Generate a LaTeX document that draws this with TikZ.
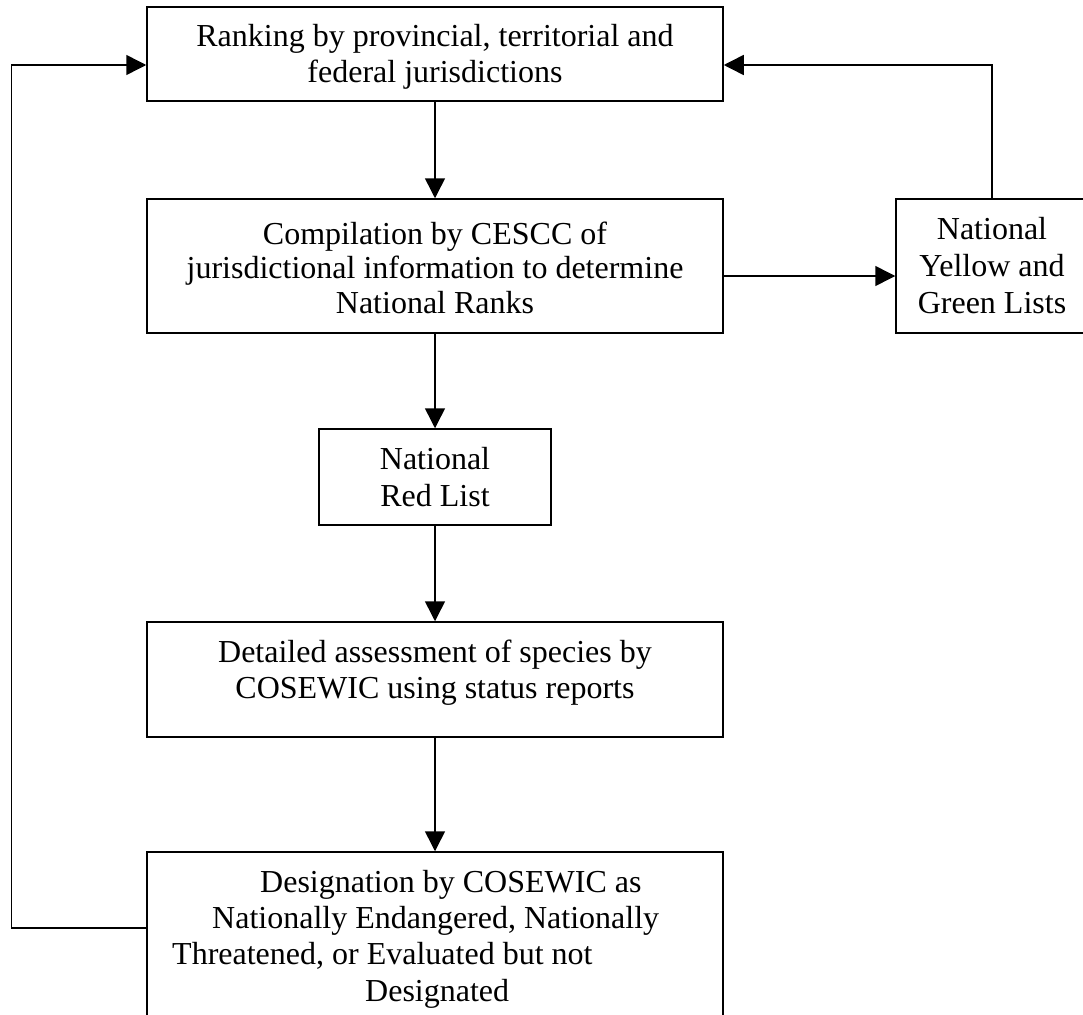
\documentclass[tikz,border=0pt]{standalone}
\usepackage{fontspec}
\setmainfont{Liberation Serif}
\usetikzlibrary{arrows.meta}
\newcommand\tblock[3][c]{\fontsize{32}{#2}\selectfont\begin{tabular}[t]{@{}#1@{}}#3\end{tabular}}
\tikzset{
  box/.style={draw, line width=1.5pt, inner sep=0pt},
  txt/.style={inner sep=0pt, anchor=base},
  arr/.style={line width=1.5pt, -{Triangle[length=20pt,width=20pt]}},
}
\begin{document}
\begin{tikzpicture}[x=1pt,y=-1pt]
\useasboundingbox (0,0) rectangle (1083,1014);
\clip (0,0) rectangle (1083,1014);
% boxes
\node[box, minimum width=576pt, minimum height=94pt]  (b1) at (435,54) {};
\node[box, minimum width=576pt, minimum height=134pt] (b2) at (435,266) {};
\node[box, minimum width=192pt, minimum height=134pt] (b3) at (992,266) {};
\node[box, minimum width=232pt, minimum height=96pt]  (b4) at (435,477) {};
\node[box, minimum width=576pt, minimum height=115pt] (b5) at (435,679.5) {};
\node[box, minimum width=576pt, minimum height=178pt] (b6) at (435,941) {};
% texts
\node[txt] (t1) at (435,47) {\tblock{36}{Ranking by provincial, territorial and\\ federal jurisdictions}};
\node[txt] (t2) at (435,244) {\tblock{34.5}{Compilation by CESCC of\\ jurisdictional information to determine\\ National Ranks}};
\node[txt] (t3) at (992,239) {\tblock{37}{National\\ Yellow and\\ Green Lists}};
\node[txt] (t4) at (435,469) {\tblock{37}{National\\ Red List}};
\node[txt] (t5) at (435,662) {\tblock{36}{Detailed assessment of species by\\ COSEWIC using status reports}};
\node[txt, anchor=base west] (t6) at (172,892.5) {\tblock[l]{36.2}{\hspace*{88pt}Designation by COSEWIC as\\ \hspace*{40pt}Nationally Endangered, Nationally\\ Threatened, or Evaluated but not\\ \hspace*{193pt}Designated}};
% connectors
\draw[arr] (b1.south) -- (b2.north);
\draw[arr] ([yshift=-10pt]b2.east) -- ([yshift=-10pt]b3.west);
\draw[arr] (b2.south) -- (b4.north);
\draw[arr] (b4.south) -- (b5.north);
\draw[arr] (b5.south) -- (b6.north);
\draw[arr] ([yshift=13pt]b6.west) -- ++(-135,0) |- ([yshift=-11pt]b1.west);
\draw[arr] (b3.north) |- ([yshift=-11pt]b1.east);
\end{tikzpicture}
\end{document}
